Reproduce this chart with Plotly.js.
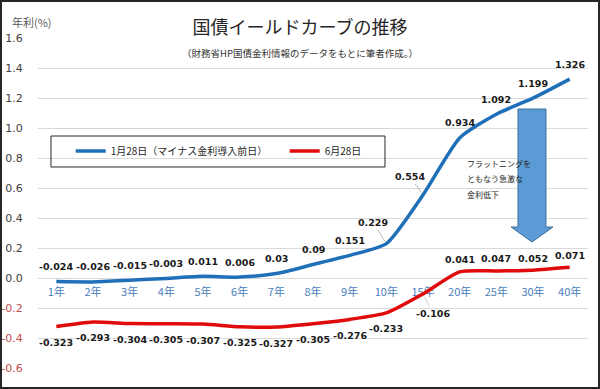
<!DOCTYPE html>
<html>
<head>
<meta charset="utf-8">
<script src="https://cdn.plot.ly/plotly-3.0.1.min.js"></script>
<style>
  html, body { margin: 0; padding: 0; background: #fff; }
  #wrap { position: relative; width: 600px; height: 389px; }
  #chart { width: 600px; height: 389px; }
  #frame { position: absolute; left: 0; top: 0; width: 600px; height: 389px; box-sizing: border-box; border: 2px solid #262626; pointer-events: none; }
</style>
</head>
<body>
<div id="wrap"><div id="chart"></div><div id="frame"></div></div>
<script>
// ---- data ----
const categories = ["1年","2年","3年","4年","5年","6年","7年","8年","9年","10年","15年","20年","25年","30年","40年"];
const seriesNames = ["1月28日（マイナス金利導入前日）", "6月28日"];
const jan28 = [-0.024,-0.026,-0.015,-0.003,0.011,0.006,0.03,0.09,0.151,0.229,0.554,0.934,1.092,1.199,1.326];
const jun28 = [-0.323,-0.293,-0.304,-0.305,-0.307,-0.325,-0.327,-0.305,-0.276,-0.233,-0.106,0.041,0.047,0.052,0.071];
const yTickValues = [-0.6,-0.4,-0.2,0.0,0.2,0.4,0.6,0.8,1.0,1.2,1.4,1.6];
const titleText = "国債イールドカーブの推移";
const subtitleText = "（財務省HP国債金利情報のデータをもとに筆者作成。）";
const yUnitText = "年利(%)";
const noteLines = ["フラットニングを", "ともなう急激な", "金利低下"];

// ---- styles ----
const BLUE = "#1f70b8", RED = "#e00b0b";
const LABEL_FONT = {family: "DejaVu Sans, Verdana, sans-serif", size: 9.5, color: "#1a1a1a", weight: "bold"};
const JP = "Noto Sans CJK JP, sans-serif";

const yTickText = yTickValues.map(v => v < 0
  ? '<span style="color:#c0504d">' + v.toFixed(1) + '</span>'
  : v.toFixed(1));

function fmt(v) { return String(v); }

// label placement rules (style, not data)
const leaderBlue = {9: [-13, -21], 10: [-13, -18]};
const leaderRed = {10: [10, 20]};

const annotations = [];
jan28.forEach((v, i) => {
  const base = {x: categories[i], y: v, xref: "x", yref: "y", text: fmt(v), font: LABEL_FONT};
  if (leaderBlue[i]) {
    annotations.push(Object.assign(base, {showarrow: true, ax: leaderBlue[i][0], ay: leaderBlue[i][1],
      arrowhead: 0, arrowwidth: 0.8, arrowcolor: "#a6a6a6", standoff: 3, startstandoff: 0}));
  } else {
    annotations.push(Object.assign(base, {showarrow: false, yshift: 15}));
  }
});
jun28.forEach((v, i) => {
  const base = {x: categories[i], y: v, xref: "x", yref: "y", text: fmt(v), font: LABEL_FONT};
  if (leaderRed[i]) {
    annotations.push(Object.assign(base, {showarrow: true, ax: leaderRed[i][0], ay: leaderRed[i][1],
      arrowhead: 0, arrowwidth: 0.8, arrowcolor: "#c8c8c8", standoff: 3}));
  } else {
    annotations.push(Object.assign(base, {showarrow: false, yshift: v > 0 ? 12 : -16}));
  }
});
annotations.push({xref: "paper", yref: "paper", x: 0.476, y: 0.9545, xanchor: "center", yanchor: "middle",
  text: subtitleText, showarrow: false, font: {family: JP, size: 9.5, color: "#333"}});
annotations.push({xref: "paper", yref: "paper", x: -0.051, y: 1.048, xanchor: "left", yanchor: "middle",
  text: yUnitText, showarrow: false, font: {family: JP, size: 11, color: "#595959"}});
noteLines.forEach((t, k) => {
  annotations.push({xref: "paper", yref: "paper", x: 0.776, y: 0.621, yshift: -15.5 * k,
    xanchor: "left", yanchor: "middle", align: "left",
    text: t, showarrow: false, font: {family: JP, size: 8, color: "#262626"}});
});

const traces = [
  {x: categories, y: jan28, name: seriesNames[0], type: "scatter", mode: "lines",
   line: {color: BLUE, width: 3.5, shape: "spline", smoothing: 0.6}, hoverinfo: "x+y"},
  {x: categories, y: jun28, name: seriesNames[1], type: "scatter", mode: "lines",
   line: {color: RED, width: 3.5, shape: "spline", smoothing: 0.6}, hoverinfo: "x+y"}
];

const layout = {
  width: 600, height: 389,
  margin: {l: 38, r: 12, t: 38, b: 21, pad: 0},
  paper_bgcolor: "#fff", plot_bgcolor: "#fff",
  title: {text: titleText, x: 0.5, xref: "container", y: 0.93, yref: "container", yanchor: "middle",
          font: {family: JP, size: 18, color: "#262626"}},
  showlegend: true,
  legend: {orientation: "h", x: 0.0595, y: 0.6576, xanchor: "left", yanchor: "middle",
           bgcolor: "rgba(0,0,0,0)", borderwidth: 0, entrywidth: 169,
           font: {family: JP, size: 10, color: "#262626"}},
  xaxis: {type: "category", categoryorder: "array", categoryarray: categories,
          range: [-0.5, 14.5], anchor: "free", position: 0.2758, showline: false, showgrid: false,
          zeroline: false, ticks: "outside", ticklen: 5, tickcolor: "rgba(0,0,0,0)", layer: "below traces",
          tickfont: {family: JP, size: 11, color: "#4a7ebb"}, fixedrange: true},
  yaxis: {range: [-0.6, 1.6], tickvals: yTickValues, ticktext: yTickText, showgrid: true,
          gridcolor: "#d9d9d9", gridwidth: 1, zeroline: false, showline: false,
          ticks: "outside", ticklen: 12, tickcolor: "rgba(0,0,0,0)",
          tickfont: {family: "DejaVu Sans, Verdana, sans-serif", size: 11, color: "#404040"}, fixedrange: true},
  shapes: [
    {type: "rect", xref: "paper", yref: "paper", x0: 0.0236, x1: 0.6309, y0: 0.6091, y1: 0.703,
     line: {color: "#262626", width: 1}, fillcolor: "rgba(0,0,0,0)"},
    {type: "path", xref: "paper", yref: "paper",
     path: "M0.8727,0.7848 L0.9236,0.7848 L0.9236,0.4273 L0.9364,0.4273 L0.8982,0.3818 L0.86,0.4273 L0.8727,0.4273 Z",
     fillcolor: "#5b9bd5", line: {color: "#41719c", width: 1}}
  ],
  annotations: annotations
};

Plotly.newPlot("chart", traces, layout, {displayModeBar: false, staticPlot: true});
</script>
</body>
</html>
